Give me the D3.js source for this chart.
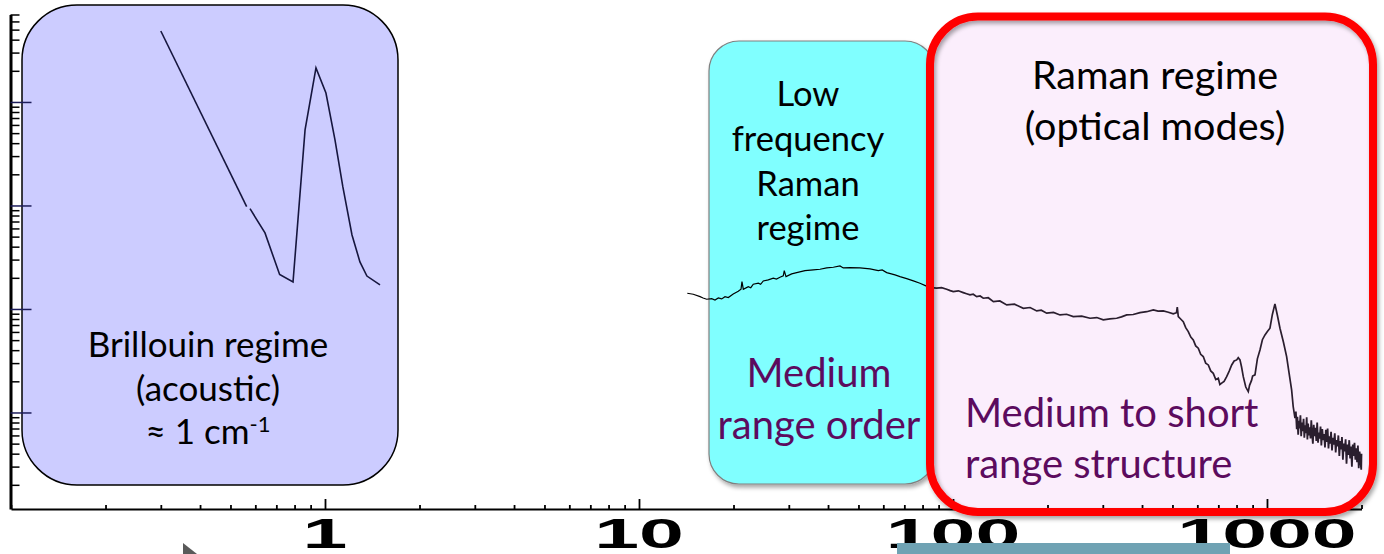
<!DOCTYPE html>
<html>
<head>
<meta charset="utf-8">
<script src="https://cdn.jsdelivr.net/npm/d3@7"></script>
<style>
body { margin: 0; background: #fff; }
svg { display: block; font-family: Lato, "Open Sans", sans-serif; }
</style>
</head>
<body>
<script>

// Data (wavenumber in cm-1, intensity in arbitrary units)

var xLabels = [1, 10, 100, 1000];
var yMajor = [10, 100, 1000, 10000];

// Brillouin scattering, two pieces with a small gap
var brillouinA = [[0.30, 48500], [0.563, 975]];
var brillouinB = [[0.577, 931], [0.644, 543], [0.717, 215], [0.791, 182], [0.864, 5370],
    [0.936, 21300], [1.007, 12200], [1.076, 4300], [1.14, 1510], [1.219, 519],
    [1.292, 285], [1.36, 208], [1.497, 171]];

// Low frequency Raman
var ramanLow = [[14.25, 141.9], [14.89, 138.7], [15.65, 131.5], [16.0, 127.5], [16.43, 124.2],
    [17.04, 125.9], [17.46, 122.2], [17.89, 127.9], [18.34, 125.0], [18.79, 131.5],
    [19.25, 128.8], [19.96, 139.7], [20.71, 148.3], [21.13, 155.2], [21.28, 183.7],
    [21.49, 155.2], [22.29, 164.4], [22.7, 160.5], [23.12, 173.4], [23.99, 177.4],
    [24.4, 173.0], [24.88, 186.6], [25.81, 190.9], [26.78, 198.2], [27.4, 194.5],
    [28.12, 202.8], [28.81, 208.6], [29.02, 234.8], [29.39, 205.6], [30.64, 218.3],
    [31.79, 224.6], [33.78, 234.8], [35.91, 238.4], [37.72, 242.1], [39.61, 249.4],
    [41.58, 253.0], [43.66, 260.6], [44.73, 249.4], [46.99, 251.2], [50.56, 249.4],
    [54.41, 243.8], [57.82, 234.8], [59.5, 238.0], [61.50, 224.6], [65.36, 213.3],
    [67.8, 205.6], [71.2, 196.6], [74.8, 186.6], [78.5, 177.4], [82.0, 167.1]];

// Raman, optical modes
var ramanMid = [[82.0, 167.1], [85.2, 160.5], [88.7, 158.8], [92.0, 161.0], [95.5, 155.2],
    [98.0, 150.5], [100.2, 147.2], [104, 149.8], [107.8, 143.9], [110.5, 140.2],
    [113.3, 136.8], [116, 138.9], [119.0, 131.5], [122, 133.4], [124.9, 127.0],
    [129.5, 128.5], [134.5, 117.8], [141, 119.5], [148.3, 109.4], [157, 111.2],
    [167.5, 101.6], [176, 103.3], [184.8, 95.7], [191, 97.2], [198.8, 91.0],
    [209, 92.5], [219.2, 87.6], [230, 88.9], [241.6, 84.4], [257, 85.2],
    [273.2, 81.4], [287, 82.6], [301.1, 78.4], [316, 80.1], [332.1, 81.4],
    [344, 83.9], [357.5, 87.6], [375, 88.4], [394.0, 92.3], [414, 94.1],
    [434.5, 98.0], [450, 95.2], [467.4, 95.7], [485, 93.0], [503.0, 89.6],
    [515, 92.0], [518.0, 104.0], [521.9, 84.4], [530, 80.5], [541.3, 75.5],
    [551, 66.0], [561.5, 60.4], [572, 53.5], [582.5, 50.2], [593, 44.0],
    [604.2, 41.8], [615, 36.5], [626.7, 34.7], [638, 30.0], [650.3, 28.8],
    [662, 25.2], [674.5, 23.9], [687, 20.8], [699.7, 21.4], [708, 18.6],
    [717.3, 19.2], [730, 20.0], [744.1, 22.2], [758, 25.1], [772.0, 28.8],
    [786, 31.4], [800.8, 32.2], [810, 33.8], [820.4, 32.2], [830, 27.5],
    [840.5, 22.2], [856, 17.6], [871.8, 15.9], [880, 18.3], [893, 20.4],
    [900, 22.5], [915.8, 23.1], [932, 33.0], [949.9, 40.2], [967, 50.5],
    [985.4, 56.1], [1003, 60.5], [1022, 65.2], [1040, 88.0], [1060, 112.0],
    [1080, 86.0], [1100, 65.2], [1128, 48.0], [1155, 34.7], [1176, 24.0],
    [1198, 16.5], [1212, 11.4], [1228, 8.8]];

// noisy high wavenumber tail
var ramanTail = [[1228, 8.8], [1236, 10.2], [1244, 6.9], [1250, 9.1], [1257, 6.1], [1264, 8.3],
    [1270, 7.0], [1278, 9.4], [1285, 5.9], [1292, 8.0], [1300, 6.6], [1308, 8.7],
    [1315, 5.7], [1322, 7.5], [1330, 6.3], [1338, 9.0], [1345, 5.5], [1352, 7.8],
    [1360, 6.0], [1368, 7.2], [1376, 5.6], [1384, 8.4], [1392, 6.2], [1400, 5.0],
    [1409, 7.6], [1418, 5.9], [1427, 7.1], [1436, 5.3], [1445, 8.0], [1454, 5.1],
    [1463, 6.4], [1472, 5.6], [1481, 7.3], [1490, 4.8], [1500, 6.9], [1510, 5.4],
    [1520, 6.2], [1530, 4.6], [1540, 6.8], [1550, 5.2], [1560, 7.0], [1570, 4.5],
    [1580, 5.9], [1590, 5.0], [1600, 6.5], [1611, 4.3], [1622, 5.7], [1633, 4.9],
    [1644, 6.3], [1655, 4.1], [1666, 5.4], [1677, 4.7], [1688, 6.0], [1700, 3.8],
    [1711, 5.3], [1722, 4.4], [1733, 5.8], [1745, 3.5], [1756, 5.0], [1768, 4.2],
    [1780, 5.5], [1792, 3.2], [1804, 4.9], [1816, 3.9], [1828, 5.4], [1840, 3.6],
    [1852, 4.7], [1864, 3.0], [1876, 4.9], [1888, 3.8], [1900, 5.1], [1912, 3.5],
    [1924, 4.5], [1936, 3.3], [1948, 4.8], [1960, 2.9], [1972, 4.2], [1984, 3.4],
    [1996, 2.8], [2000, 4.0]];


// ===========================================================================
// The chart

var width = 1384;
var height = 554;

var svg = d3.select('body').append('svg')
    .attr('width', width)
    .attr('height', height);

var x = d3.scaleLog().domain([0.1, 2000]).range([11, 1361.5]);
var y = d3.scaleLog().domain([1.168, 70000]).range([509, 14.5]);

var defs = svg.append('defs');
var shadow = defs.append('filter').attr('id', 'shadow')
    .attr('x', '-5%').attr('y', '-5%').attr('width', '115%').attr('height', '115%');
shadow.append('feDropShadow')
    .attr('dx', 2).attr('dy', 3).attr('stdDeviation', 2)
    .attr('flood-color', '#000').attr('flood-opacity', 0.35);

// rounded regime boxes
function roundBox(x0, y0, w, h, r) {
    return svg.append('rect')
        .attr('x', x0).attr('y', y0)
        .attr('width', w).attr('height', h)
        .attr('rx', r).attr('ry', r);
}

roundBox(22, 5, 376, 480, 55)
    .attr('fill', '#ccccff')
    .attr('stroke', '#000')
    .attr('stroke-width', 1.5);

roundBox(709, 41, 226, 443, 30)
    .attr('fill', '#80ffff')
    .attr('stroke', '#808080')
    .attr('stroke-width', 1.2)
    .attr('filter', 'url(#shadow)');

roundBox(930, 16.5, 443, 495.5, 48)
    .attr('fill', '#fbeefc');

// Axes

var minorX = x.ticks().filter(function (d) { return xLabels.indexOf(d) < 0; });
var minorY = y.ticks().filter(function (d) { return yMajor.indexOf(d) < 0; });

var gx = svg.append('g').attr('transform', 'translate(0,509)');
gx.call(d3.axisBottom(x).tickValues(minorX).tickSize(-4).tickSizeOuter(0).tickFormat(''));
gx.append('g').call(d3.axisBottom(x).tickValues(xLabels).tickSize(-10).tickSizeOuter(0).tickFormat(''))
    .select('.domain').remove();
gx.selectAll('.domain').attr('stroke', '#000').attr('stroke-width', 2);
gx.selectAll('.tick line').attr('stroke', '#000').attr('stroke-width', 1.8);

var gy = svg.append('g').attr('transform', 'translate(10.5,0)');
gy.call(d3.axisRight(y).tickValues(minorY).tickSize(9).tickSizeOuter(0).tickFormat(''));
gy.append('g').call(d3.axisRight(y).tickValues(yMajor).tickSize(21).tickSizeOuter(0).tickFormat(''))
    .call(function (g) { g.select('.domain').remove(); })
    .selectAll('.tick line').attr('stroke', '#1c1c5a');
gy.select('.domain').attr('stroke', '#000').attr('stroke-width', 3);
gy.selectAll('.tick line').attr('stroke-width', 1.5);

// tick labels, stretched wide as in the slide
svg.append('g').selectAll('g')
    .data(xLabels)
    .enter().append('g')
    .attr('transform', function (d) { return 'translate(' + x(d) + ',548) scale(1.92,1)'; })
    .append('text')
    .attr('text-anchor', 'middle')
    .style('font-family', '"Liberation Sans", Arial, sans-serif')
    .style('font-weight', 'bold')
    .style('font-size', '42px')
    .attr('fill', '#000')
    .text(function (d) { return d; });

// Spectra

var line = d3.line()
    .x(function (d) { return x(d[0]); })
    .y(function (d) { return y(d[1]); });

[brillouinA, brillouinB].forEach(function (s) {
    svg.append('path').datum(s)
        .attr('d', line)
        .attr('fill', 'none')
        .attr('stroke', '#16163e')
        .attr('stroke-width', 1.6);
});

svg.append('path').datum(ramanLow)
    .attr('d', line)
    .attr('fill', 'none')
    .attr('stroke', '#000')
    .attr('stroke-width', 1.2);

svg.append('path').datum(ramanMid)
    .attr('d', line)
    .attr('fill', 'none')
    .attr('stroke', '#2a1e2e')
    .attr('stroke-width', 1.7);

svg.append('path').datum(ramanTail)
    .attr('d', line)
    .attr('fill', 'none')
    .attr('stroke', '#2a1e2e')
    .attr('stroke-width', 1.8);

// red outline of the Raman regime sits on top
roundBox(930, 16.5, 443, 495.5, 48)
    .attr('fill', 'none')
    .attr('stroke', '#ff0000')
    .attr('stroke-width', 8)
    .attr('filter', 'url(#shadow)');

// Texts

function label(tx, ty, str, size, color, anchor) {
    return svg.append('text')
        .attr('x', tx).attr('y', ty)
        .attr('text-anchor', anchor || 'middle')
        .style('font-size', size + 'px')
        .attr('fill', color)
        .text(str);
}

label(208, 357, 'Brillouin regime', 35, '#000');
label(208, 401, '(acoustic)', 35, '#000');
var approx = label(208, 444, '\u2248 1 cm', 35, '#000');
approx.append('tspan').attr('dy', -12).style('font-size', '22px').text('-1');

label(808, 106, 'Low', 34.5, '#000');
label(808, 151, 'frequency', 34.5, '#000');
label(808, 196, 'Raman', 34.5, '#000');
label(808, 240, 'regime', 34.5, '#000');
label(819, 387, 'Medium', 40, '#5c0b5e');
label(819, 439, 'range order', 40, '#5c0b5e');

label(1155, 89, 'Raman regime', 39.5, '#000');
label(1155, 140, '(optical modes)', 39.5, '#000');
label(965, 427, 'Medium to short', 40, '#5c0b5e', 'start');
label(965, 478, 'range structure', 40, '#5c0b5e', 'start');

// bits of other slide objects at the bottom edge
svg.append('rect')
    .attr('x', 897).attr('y', 543)
    .attr('width', 333).attr('height', 11)
    .attr('fill', '#6fa2b3');

svg.append('path')
    .attr('d', 'M183,543L183,554L197,554Z')
    .attr('fill', '#5a5a5a');

</script>
</body>
</html>
